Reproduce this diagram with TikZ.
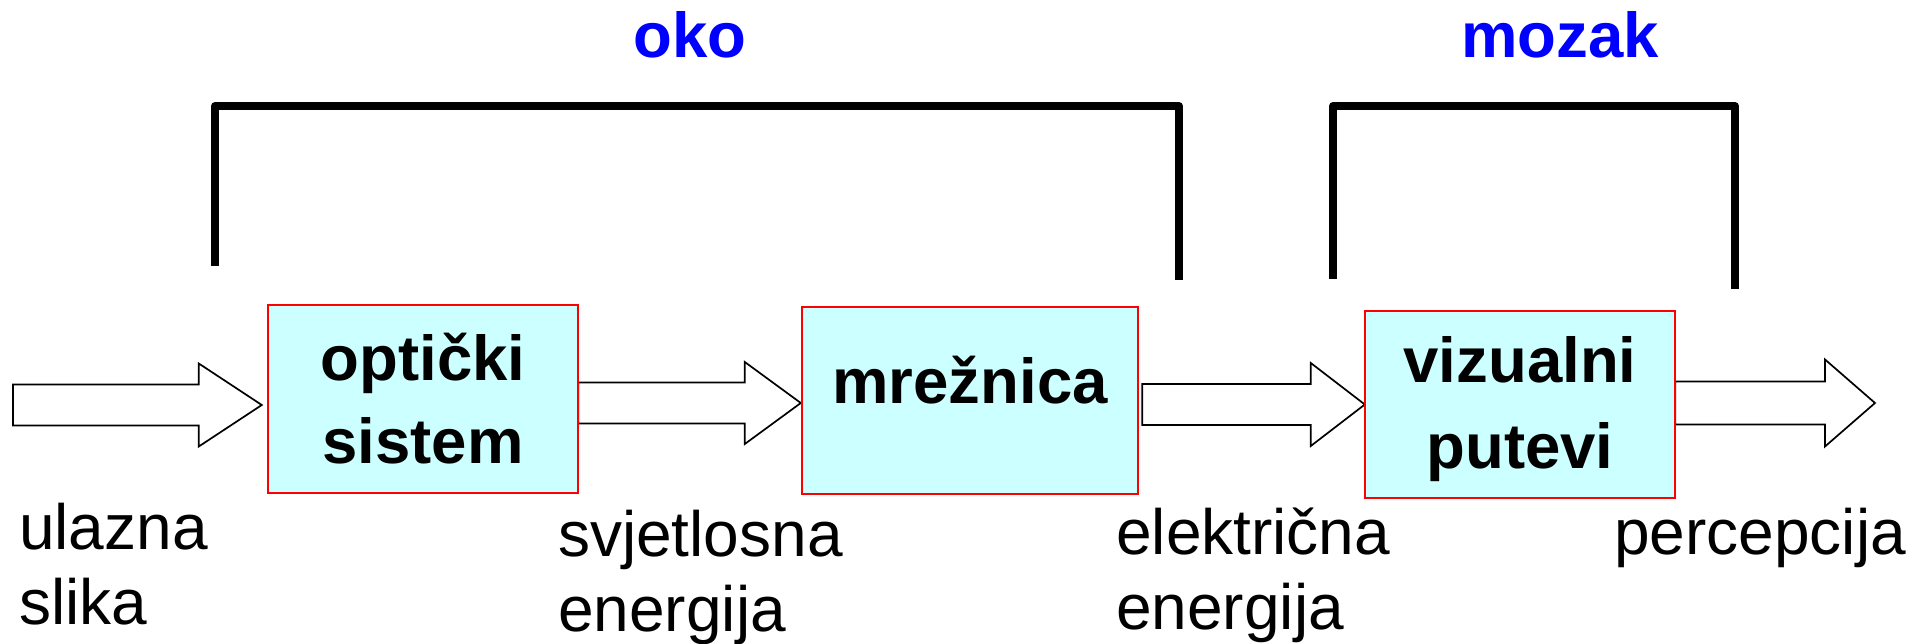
\documentclass[tikz,border=0pt]{standalone}
\usepackage{fontspec}
\setmainfont{Liberation Sans}
\usetikzlibrary{calc}
\definecolor{boxcyan}{HTML}{CCFFFF}
\definecolor{boxred}{HTML}{FF0000}
\definecolor{labblue}{HTML}{0000FF}
\newcommand\twolines[3]{\vtop{\baselineskip=#1\hbox{#2}\hbox{#3}}}
\newcommand\twocenter[3]{\vtop{\baselineskip=#1\halign{\hfil##\hfil\cr #2\cr #3\cr}}}
% #1 start, #2 tip, #3 head length, #4 shaft half width, #5 head half width
\newcommand\fatarrow[5]{%
  \draw[fatarrowstyle] ($(#1 |- #2)+(0,-#4)$) -- ($(#2)+(-#3,-#4)$) -- ($(#2)+(-#3,-#5)$)
    -- (#2) -- ($(#2)+(-#3,#5)$) -- ($(#2)+(-#3,#4)$) -- ($(#1 |- #2)+(0,#4)$) -- cycle;}
\begin{document}
\begin{tikzpicture}[x=1pt,y=-1pt,
  blockbox/.style={draw=boxred, line width=2pt, fill=boxcyan, inner sep=0pt},
  fatarrowstyle/.style={draw=black, fill=white, line width=1.7pt, line join=miter},
  bracketline/.style={draw=black, line width=8pt, line join=round},
  boxtext/.style={inner sep=0pt, anchor=base, font=\fontsize{63.5}{83}\selectfont\bfseries},
  labtext/.style={inner sep=0pt, anchor=base west, font=\fontsize{64}{75}\selectfont},
  headtext/.style={inner sep=0pt, anchor=base, text=labblue, font=\fontsize{63.5}{75}\selectfont\bfseries}]
\useasboundingbox (0,0) rectangle (1928,644);
% boxes (shapes only, drawn later on top)
\path (423,399) node[minimum width=310pt, minimum height=188pt, inner sep=0pt] (b1) {};
\path (970,400.5) node[minimum width=336pt, minimum height=187pt, inner sep=0pt] (b2) {};
\path (1520,404.5) node[minimum width=310pt, minimum height=187pt, inner sep=0pt] (b3) {};
% arrow end points
\coordinate (in) at (13,405);
\coordinate (t1) at ($(b1.west)+(-6,6)$);
\coordinate (s2) at (b1.east);
\coordinate (t2) at ($(b2.west)+(-1,2.5)$);
\coordinate (s3) at ($(b2.east)+(4,0)$);
\coordinate (t3) at (b3.west);
\coordinate (s4) at (b3.east);
\coordinate (out) at (1875,403);
% arrows
\fatarrow{in}{t1}{63}{20.5}{41.5}
\fatarrow{s2}{t2}{56}{20.5}{41}
\fatarrow{s3}{t3}{54}{20.5}{41.5}
\fatarrow{s4}{out}{50}{21.5}{43.5}
% visible boxes
\node[blockbox, minimum width=310pt, minimum height=188pt] (box1) at (b1) {};
\node[blockbox, minimum width=336pt, minimum height=187pt] (box2) at (b2) {};
\node[blockbox, minimum width=310pt, minimum height=187pt] (box3) at (b3) {};
% box texts
\node[boxtext] (tx1) at (423,380) {\twocenter{83pt}{optički}{sistem}};
\node[boxtext] (tx2) at (970,403) {mrežnica};
\node[boxtext] (tx3) at (1520,382) {\twocenter{86pt}{vizualni}{putevi}};
% brackets
\draw[bracketline] (215,266) |- (1179,106) -- (1179,280);
\draw[bracketline] (1333,279) |- (1735,106) -- (1735,289);
\node[headtext] (oko) at (690,58) {oko};
\node[headtext] (mozak) at (1560,58) {mozak};
% lower labels
\node[labtext] (l1) at (19,549) {\twolines{75pt}{ulazna}{slika}};
\node[labtext] (l2) at (558,556) {\twolines{75pt}{svjetlosna}{energija}};
\node[labtext] (l3) at (1116,554) {\twolines{75pt}{električna}{energija}};
\node[labtext] (l4) at (1614,554) {percepcija};
\end{tikzpicture}
\end{document}
